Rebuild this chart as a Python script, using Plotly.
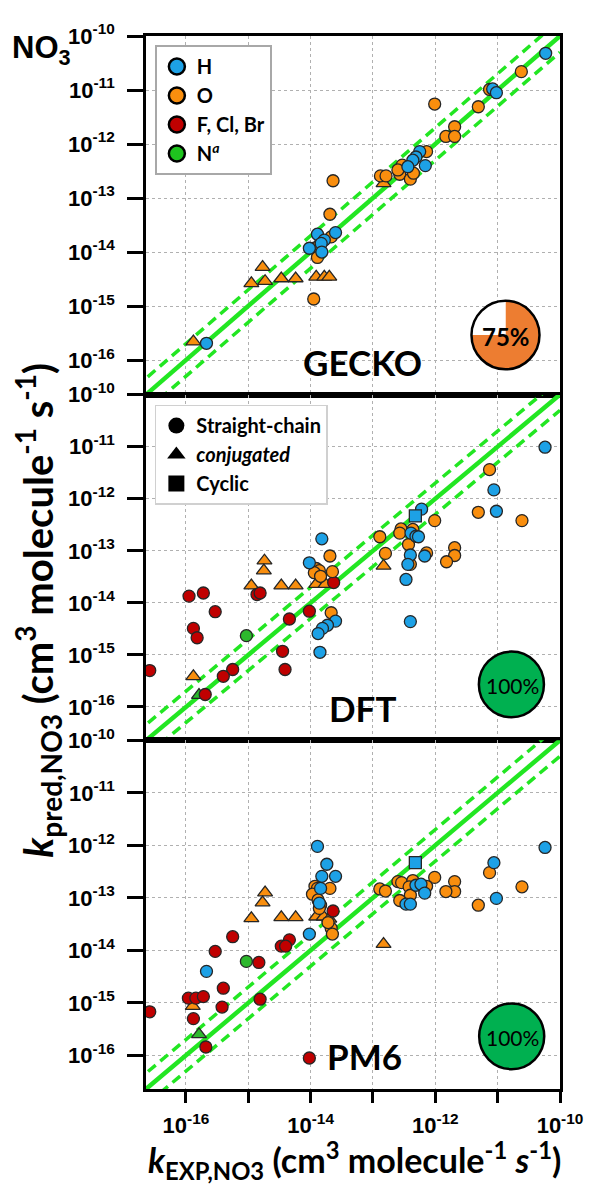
import numpy as np
import plotly.graph_objects as go
from plotly.subplots import make_subplots

# ---- data: log10 of rate constants (cm3 molecule-1 s-1)
# x = experimental k, y = predicted k

# GECKO panel
gecko_h_x = [-10.23, -11.08, -11.02, -12.25, -12.31, -12.36, -12.16, -12.44, -13.60, -13.89, -13.78, -13.83, -14.02, -13.82, -15.67]
gecko_h_y = [-10.32, -10.98, -11.05, -12.14, -12.24, -12.30, -12.40, -12.42, -13.64, -13.67, -13.78, -13.84, -13.93, -14.00, -15.69]
gecko_o_x = [-10.62, -11.13, -12.01, -11.31, -11.69, -11.83, -11.69, -12.14, -12.53, -12.57, -12.40, -12.35, -12.60, -12.88, -12.79, -13.64, -13.69, -13.67, -13.94, -13.86, -13.89, -13.95]
gecko_o_y = [-10.66, -10.99, -11.26, -11.31, -11.68, -11.86, -11.86, -12.14, -12.39, -12.56, -12.65, -12.54, -12.48, -12.59, -12.59, -12.68, -13.30, -13.72, -13.93, -13.87, -14.10, -14.87]
gecko_o_tri_x = [-12.83, -14.77, -14.95, -14.73, -14.47, -14.24, -13.91, -13.78, -13.70, -15.88]
gecko_o_tri_y = [-12.73, -14.28, -14.58, -14.54, -14.49, -14.49, -14.46, -14.46, -14.46, -15.66]

# DFT panel
dft_h_x = [-10.24, -11.06, -11.02, -12.22, -12.39, -12.31, -12.27, -12.40, -12.44, -12.17, -12.47, -12.40, -13.82, -14.02, -13.60, -13.73, -13.81, -13.88, -13.85]
dft_h_y = [-11.01, -11.83, -12.24, -12.20, -12.66, -12.72, -12.73, -13.08, -13.26, -13.10, -13.55, -14.36, -12.77, -13.23, -14.35, -14.43, -14.49, -14.59, -14.95]
dft_h_sq_x = [-12.32]
dft_h_sq_y = [-12.33]
dft_o_x = [-11.13, -11.31, -10.61, -12.01, -12.55, -12.57, -12.36, -12.43, -12.89, -12.80, -12.40, -12.14, -11.69, -11.69, -11.82, -13.69, -13.91, -13.86, -13.94, -13.65, -13.84, -13.67]
dft_o_y = [-11.44, -12.26, -12.42, -12.42, -12.58, -12.66, -12.59, -12.88, -12.73, -13.05, -13.26, -13.04, -12.94, -13.09, -13.21, -13.10, -13.34, -13.38, -13.42, -13.40, -13.49, -14.19]
dft_o_tri_x = [-12.83, -14.74, -14.75, -14.95, -14.47, -14.24, -13.91, -13.76, -15.88]
dft_o_tri_y = [-13.29, -13.19, -13.38, -13.67, -13.67, -13.67, -13.64, -13.64, -15.41]
dft_hal_x = [-13.63, -14.86, -14.81, -15.95, -15.72, -15.53, -14.02, -14.34, -15.88, -15.82, -14.45, -16.58, -14.41, -15.25, -15.40, -15.69]
dft_hal_y = [-13.61, -13.84, -13.81, -13.87, -13.81, -14.17, -14.16, -14.31, -14.49, -14.67, -14.93, -15.30, -15.28, -15.28, -15.41, -15.76]
dft_n_x = [-15.03]
dft_n_y = [-14.63]
dft_n_tri_x = [-15.79]
dft_n_tri_y = [-15.77]

# PM6 panel
pm6_h_x = [-13.89, -13.74, -13.82, -13.60, -13.84, -13.86, -14.02, -15.67, -10.24, -11.06, -11.02, -12.31, -12.23, -12.17, -12.47, -12.40]
pm6_h_y = [-12.02, -12.36, -12.59, -12.59, -12.82, -13.10, -13.69, -14.40, -12.04, -12.33, -13.01, -12.76, -12.74, -12.91, -13.12, -13.12]
pm6_h_sq_x = [-12.32]
pm6_h_sq_y = [-12.33]
pm6_o_x = [-13.93, -13.89, -13.69, -13.97, -13.88, -13.84, -13.86, -13.67, -13.65, -13.72, -11.13, -10.61, -11.31, -12.01, -11.69, -11.69, -11.83, -12.89, -12.80, -12.60, -12.54, -12.36, -12.14, -12.42, -12.40, -12.57]
pm6_o_y = [-12.78, -12.82, -12.82, -12.93, -13.04, -13.14, -13.20, -13.58, -13.69, -13.47, -12.52, -12.79, -13.14, -12.61, -12.69, -12.88, -12.88, -12.83, -12.87, -12.69, -12.71, -12.67, -12.78, -12.79, -12.95, -13.05]
pm6_o_tri_x = [-14.73, -14.77, -14.95, -14.47, -14.24, -13.91, -13.79, -13.70, -12.83, -15.89]
pm6_o_tri_y = [-12.90, -13.09, -13.39, -13.37, -13.37, -13.36, -13.36, -13.40, -13.88, -15.06]
pm6_hal_x = [-13.64, -15.25, -14.34, -14.47, -14.40, -15.53, -14.83, -15.40, -15.96, -15.84, -15.72, -14.81, -16.58, -15.42, -15.88, -15.68, -14.02]
pm6_hal_y = [-13.25, -13.74, -13.80, -13.92, -13.92, -14.02, -14.23, -14.72, -14.91, -14.91, -14.88, -14.93, -15.17, -15.08, -15.30, -15.84, -16.05]
pm6_n_x = [-15.03]
pm6_n_y = [-14.21]
pm6_n_tri_x = [-15.79]
pm6_n_tri_y = [-15.60]

# share of predictions within the factor band (pie insets)
panel_names = ['GECKO', 'DFT', 'PM6']
panel_scores = [75, 100, 100]

ref_line = [1e-17, 1e-10]
band_factor = 2
y_ticks = [1e-10, 1e-11, 1e-12, 1e-13, 1e-14, 1e-15, 1e-16]
y_ticktext = ['10<sup>-10</sup>', '10<sup>-11</sup>', '10<sup>-12</sup>', '10<sup>-13</sup>',
              '10<sup>-14</sup>', '10<sup>-15</sup>', '10<sup>-16</sup>']
x_ticks = [1e-16, 1e-15, 1e-14, 1e-13, 1e-12, 1e-11, 1e-10]
x_ticktext = ['10<sup>-16</sup>', '', '10<sup>-14</sup>', '', '10<sup>-12</sup>', '', '10<sup>-10</sup>']

# ---- style
C_H = '#1DA1E6'
C_O = '#F98E0E'
C_X = '#C00000'
C_N = '#2DB82D'
GREEN_LINE = '#22E622'
EDGE = '#262626'
LABEL_FONT = 'Lato'
TICK_FONT = 'Liberation Sans'

# the page body adds an 8px margin, so the figure is drawn 8px smaller
PAGE_PAD = 8
FIG_W, FIG_H = 595 - PAGE_PAD, 1189 - PAGE_PAD
# plot area in page pixels
L, R, T, B = 146, 566, 29, 1089
W, H = R - L, B - T


def px(x, y):
    return (x - L) / W, (B - y) / H


fig = make_subplots(rows=3, cols=1, shared_xaxes=True, vertical_spacing=0,
                    row_heights=[361, 348, 351])


def add_points(row, xs, ys, color, symbol='circle', size=12):
    fig.add_trace(go.Scatter(
        x=np.power(10.0, xs), y=np.power(10.0, ys), mode='markers',
        marker=dict(color=color, symbol=symbol, size=size,
                    line=dict(color=EDGE, width=1.3)),
        showlegend=False, hoverinfo='skip'), row=row, col=1)


for row in (1, 2, 3):
    rx = np.array(ref_line)
    for fac, dash, w in ((1, 'solid', 4.5), (band_factor, '10px,6px', 3.5), (1 / band_factor, '10px,6px', 3.5)):
        fig.add_trace(go.Scatter(x=rx, y=rx * fac, mode='lines',
                                 line=dict(color=GREEN_LINE, width=w, dash=dash),
                                 showlegend=False, hoverinfo='skip'), row=row, col=1)

# GECKO
add_points(1, gecko_o_tri_x, gecko_o_tri_y, C_O, 'triangle-up', 13)
add_points(1, gecko_o_x, gecko_o_y, C_O)
add_points(1, gecko_h_x, gecko_h_y, C_H)
# DFT
add_points(2, dft_o_tri_x, dft_o_tri_y, C_O, 'triangle-up', 13)
add_points(2, dft_n_tri_x, dft_n_tri_y, C_N, 'triangle-up', 13)
add_points(2, dft_hal_x, dft_hal_y, C_X)
add_points(2, dft_n_x, dft_n_y, C_N)
add_points(2, dft_o_x, dft_o_y, C_O)
add_points(2, dft_h_x, dft_h_y, C_H)
add_points(2, dft_h_sq_x, dft_h_sq_y, C_H, 'square', 12)
# PM6
add_points(3, pm6_o_tri_x, pm6_o_tri_y, C_O, 'triangle-up', 13)
add_points(3, pm6_n_tri_x, pm6_n_tri_y, C_N, 'triangle-up', 13)
add_points(3, pm6_hal_x, pm6_hal_y, C_X)
add_points(3, pm6_n_x, pm6_n_y, C_N)
add_points(3, pm6_o_x, pm6_o_y, C_O)
add_points(3, pm6_h_x, pm6_h_y, C_H)
add_points(3, pm6_h_sq_x, pm6_h_sq_y, C_H, 'square', 12)

# legend entries (atoms)
for name, col in (('H', C_H), ('O', C_O), ('F, Cl, Br', C_X), ('N<sup><i>a</i></sup>', '#1EC41E')):
    fig.add_trace(go.Scatter(x=[None], y=[None], mode='markers', name=name, legend='legend',
                             marker=dict(color=col, size=16, line=dict(color='black', width=2.5))))
# legend entries (shapes)
for name, sym in (('Straight-chain', 'circle'), ('<i>conjugated</i>', 'triangle-up'), ('Cyclic', 'square')):
    fig.add_trace(go.Scatter(x=[None], y=[None], mode='markers', name=name, legend='legend2',
                             marker=dict(color='black', symbol=sym, size=17)))

# pie insets
pie_centres = [(510.7, 330, 34.5), (516.7, 681.7, 33), (517, 1036, 33)]
pie_colors = ['#ED7D31', '#00B050', '#00B050']
annotations = []
shapes = []
for (cx, cy, r), score, col, name in zip(pie_centres, panel_scores, pie_colors, panel_names):
    x0, y0 = px(cx - r, cy + r)
    x1, y1 = px(cx + r, cy - r)
    fig.add_trace(go.Pie(values=[score, 100 - score], domain=dict(x=[x0, x1], y=[y0, y1]),
                         marker=dict(colors=[col, 'white'], line=dict(width=0)),
                         sort=False, direction='clockwise', rotation=0,
                         textinfo='none', hoverinfo='skip', showlegend=False))
    shapes.append(dict(type='circle', xref='paper', yref='paper', x0=x0, x1=x1, y0=y0, y1=y1,
                       line=dict(color='black', width=2.5)))
    ax, ay = px(cx + 1, cy + 1)
    annotations.append(dict(x=ax, y=ay, xref='paper', yref='paper', text=f'{score}%',
                            xanchor='center', yanchor='middle', showarrow=False,
                            font=dict(family=LABEL_FONT, size=24 if score < 100 else 21,
                                      weight='bold' if score < 100 else 'normal', color='black')))

# panel labels
for name, (lx, ly) in zip(panel_names, [(366, 357), (366, 705), (368, 1056)]):
    ax, ay = px(lx, ly)
    annotations.append(dict(x=ax, y=ay, xref='paper', yref='paper', text=f'<b>{name}</b>',
                            xanchor='center', yanchor='middle', showarrow=False,
                            font=dict(family=LABEL_FONT, size=35, color='black')))

# NO3 label and axis titles
nx, ny = px(8, 43)
annotations.append(dict(x=nx, y=ny, xref='paper', yref='paper', xanchor='left', yanchor='middle',
                        text='<b>NO<sub>3</sub></b>', showarrow=False,
                        font=dict(family=TICK_FONT, size=31, color='black')))
tx, ty = px(358, 1161)
annotations.append(dict(x=tx, y=ty, xref='paper', yref='paper', xanchor='center', yanchor='middle',
                        showarrow=False,
                        text='<b><i>k</i><sub>EXP,NO3</sub> (cm<sup>3</sup> molecule<sup>-1</sup> <i>s</i><sup>-1</sup>)</b>',
                        font=dict(family=LABEL_FONT, size=34, color='black')))
yx, yy = px(36, 607)
annotations.append(dict(x=yx, y=yy, xref='paper', yref='paper', xanchor='center', yanchor='middle',
                        showarrow=False, textangle=-90,
                        text='<b><i>k</i><sub>pred,NO3</sub> (cm<sup>3</sup> molecule<sup>-1</sup> s<sup>-1</sup>)</b>',
                        font=dict(family=LABEL_FONT, size=40, color='black')))

axis_common = dict(type='log', range=[-16.64, -10], showline=True, mirror=True,
                   linecolor='black', linewidth=2.5, showgrid=True, gridcolor='#b0b0b0',
                   griddash='dot', gridwidth=1, zeroline=False)
fig.update_xaxes(**axis_common, tickvals=x_ticks, ticktext=x_ticktext, ticks='',
                 showticklabels=False)
fig.update_xaxes(ticks='outside', ticklen=11, tickwidth=2.5, tickcolor='black',
                 showticklabels=True, ticklabelstandoff=4,
                 tickfont=dict(family=TICK_FONT, size=22, color='black', weight='bold'),
                 row=3, col=1)
fig.update_yaxes(**axis_common, tickvals=y_ticks, ticktext=y_ticktext, ticks='outside',
                 ticklen=16, tickwidth=2.5, tickcolor='black', ticklabelstandoff=8,
                 tickfont=dict(family=TICK_FONT, size=22, color='black', weight='bold'))

lg1x, lg1y = px(155, 38)
lg2x, lg2y = px(155, 400)
fig.update_layout(
    width=FIG_W, height=FIG_H,
    margin=dict(l=L - PAGE_PAD, r=595 - R, t=T - PAGE_PAD, b=1189 - B),
    paper_bgcolor='white', plot_bgcolor='white',
    legend=dict(x=lg1x, y=lg1y, xanchor='left', yanchor='top', bgcolor='white',
                bordercolor='#a8a8a8', borderwidth=2, tracegroupgap=0,
                font=dict(family=LABEL_FONT, size=20, color='black', weight='bold')),
    legend2=dict(x=lg2x, y=lg2y, xanchor='left', yanchor='top', bgcolor='white',
                 bordercolor='#d0d0d0', borderwidth=1.5,
                 font=dict(family=LABEL_FONT, size=20, color='black', weight='bold')),
    annotations=annotations, shapes=shapes,
)

fig.write_html('out.html')
